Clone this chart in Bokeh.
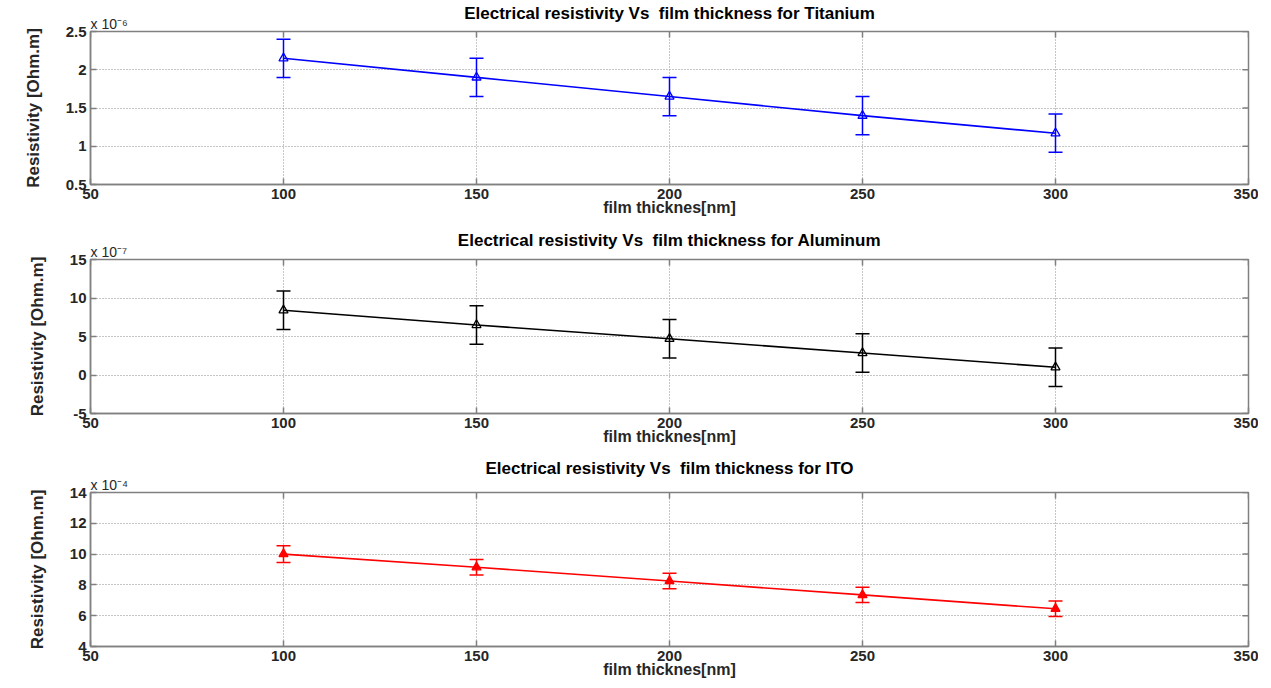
import math
from bokeh.plotting import figure
from bokeh.layouts import column
from bokeh.models import (ColumnDataSource, Whisker, TeeHead, Title,
                          FixedTicker, Range1d)
from bokeh.embed import file_html
from bokeh.resources import INLINE

# ---------------- data ----------------
thickness_nm = [100, 150, 200, 250, 300]

titanium_rho = [2.15, 1.90, 1.65, 1.40, 1.17]   # x 10^-6 Ohm.m
titanium_err = [0.25, 0.25, 0.25, 0.25, 0.25]

aluminum_rho = [8.4, 6.5, 4.7, 2.85, 1.0]       # x 10^-7 Ohm.m
aluminum_err = [2.5, 2.5, 2.5, 2.5, 2.5]

ito_rho = [10.0, 9.15, 8.25, 7.35, 6.45]        # x 10^-4 Ohm.m
ito_err = [0.55, 0.5, 0.5, 0.5, 0.5]

x_ticks = [50, 100, 150, 200, 250, 300, 350]
ti_yticks = [0.5, 1, 1.5, 2, 2.5]
al_yticks = [-5, 0, 5, 10, 15]
ito_yticks = [4, 6, 8, 10, 12, 14]

titles = ["Electrical resistivity Vs\u00a0 film thickness for Titanium",
          "Electrical resistivity Vs\u00a0 film thickness for Aluminum",
          "Electrical resistivity Vs\u00a0 film thickness for ITO"]
exponents = ["x 10\u207b\u2076", "x 10\u207b\u2077", "x 10\u207b\u2074"]
x_label = "film thicknes[nm]"
y_label = "Resistivity [Ohm.m]"

FONT = "Liberation Sans"
AX_COLOR = "#808080"
TXT_COLOR = "#262626"
FRAME_W = 1158


def fmt(t):
    return f"{t:g}"


def style_axis(ax, ticks):
    ax.ticker = FixedTicker(ticks=ticks)
    ax.axis_line_color = AX_COLOR
    ax.axis_line_width = 1.5
    ax.major_tick_line_color = AX_COLOR
    ax.major_tick_line_width = 1.5
    ax.major_tick_in = 6
    ax.major_tick_out = 0
    ax.minor_tick_line_color = None
    ax.major_label_text_font = FONT
    ax.major_label_text_font_style = "bold"
    ax.major_label_text_font_size = "15px"
    ax.major_label_text_color = TXT_COLOR
    ax.major_label_overrides = {float(t): fmt(t) for t in ticks}
    ax.major_label_standoff = 4
    ax.axis_label_text_font = FONT
    ax.axis_label_text_font_style = "bold"
    ax.axis_label_text_color = TXT_COLOR


def panel(title, rho, err, yticks, exponent, color, filled,
          frame_h, top_b, bottom_b, title_standoff, exp_standoff):
    lower = [r - e for r, e in zip(rho, err)]
    upper = [r + e for r, e in zip(rho, err)]
    src = ColumnDataSource(dict(x=thickness_nm, y=rho, lower=lower, upper=upper))

    p = figure(frame_width=FRAME_W, frame_height=frame_h, title=None,
               x_range=Range1d(x_ticks[0], x_ticks[-1]),
               y_range=Range1d(yticks[0], yticks[-1]),
               output_backend="svg", toolbar_location=None,
               min_border_left=90, min_border_right=10,
               min_border_top=top_b, min_border_bottom=bottom_b)
    p.outline_line_color = AX_COLOR
    p.outline_line_width = 1.5
    p.background_fill_color = "white"
    p.border_fill_color = "white"

    style_axis(p.xaxis[0], x_ticks)
    style_axis(p.yaxis[0], yticks)
    p.xaxis[0].axis_label = x_label
    p.xaxis[0].axis_label_text_font_size = "16px"
    p.xaxis[0].axis_label_standoff = -3
    p.yaxis[0].axis_label = y_label
    p.yaxis[0].axis_label_text_font_size = "17px"
    p.yaxis[0].axis_label_standoff = 20

    p.xgrid.ticker = FixedTicker(ticks=x_ticks)
    p.ygrid.ticker = FixedTicker(ticks=yticks)
    for g in (p.xgrid[0], p.ygrid[0]):
        g.grid_line_color = "#8c8c8c"
        g.grid_line_dash = "1 2"
        g.grid_line_width = 1

    # inward ticks on the top and right edges (half of each dash is clipped)
    p.scatter(x=x_ticks, y=[yticks[-1]] * len(x_ticks), marker="dash", size=12,
              angle=math.pi / 2, line_color=AX_COLOR, line_width=1.5)
    p.scatter(x=[x_ticks[-1]] * len(yticks), y=yticks, marker="dash", size=12,
              line_color=AX_COLOR, line_width=1.5)

    p.line("x", "y", source=src, line_color=color, line_width=1.6)
    p.scatter("x", "y", source=src, marker="triangle", size=9,
              line_color=color, line_width=1.3,
              fill_color=color if filled else None)
    p.add_layout(Whisker(source=src, base="x", upper="upper", lower="lower",
                         dimension="height", line_color=color, line_width=1.5,
                         upper_head=TeeHead(size=14, line_color=color, line_width=1.5),
                         lower_head=TeeHead(size=14, line_color=color, line_width=1.5)))

    p.add_layout(Title(text=exponent, align="left", text_font=FONT,
                       text_font_style="normal", text_font_size="14px",
                       text_color=TXT_COLOR, standoff=exp_standoff), "above")
    p.add_layout(Title(text=title, align="center", text_font=FONT,
                       text_font_style="bold", text_font_size="17px",
                       text_color="black", standoff=title_standoff), "above")
    return p


p1 = panel(titles[0], titanium_rho, titanium_err, ti_yticks, exponents[0],
           "#0000ff", False, 153, 31, 40, -16, -1)
p2 = panel(titles[1], aluminum_rho, aluminum_err, al_yticks, exponents[1],
           "#000000", False, 154, 35, 40, -17, 0)
p3 = panel(titles[2], ito_rho, ito_err, ito_yticks, exponents[2],
           "#ff0000", True, 154, 39, 38, -7, 0)

layout = column(p1, p2, p3, spacing=0)
open("out.html", "w").write(file_html(layout, INLINE))
